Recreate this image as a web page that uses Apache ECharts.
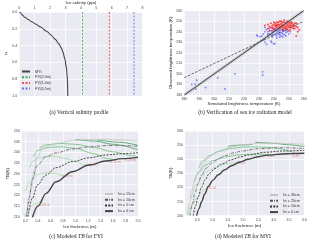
<!DOCTYPE html>
<html><head><meta charset="utf-8">
<script src="https://cdn.jsdelivr.net/npm/echarts@6/dist/echarts.min.js"></script>
<style>html,body{margin:0;padding:0;background:#fff}#c{width:320px;height:242px}</style>
</head><body><div id="c"></div>
<script>
// ---------- (a) vertical salinity profile ----------
const depthZ      = [0, 0.02, 0.05, 0.08, 0.1, 0.13, 0.16, 0.2, 0.25, 0.3, 0.35, 0.4, 0.45, 0.5, 0.6, 0.7, 0.8, 0.9, 1.0];
const myiSalinity = [0, 0.12, 0.28, 0.5, 0.68, 0.95, 1.22, 1.55, 1.92, 2.2, 2.45, 2.64, 2.78, 2.88, 3.0, 3.08, 3.12, 3.14, 3.15];
const fyiNames    = ['FYI(2.0m)', 'FYI(1.0m)', 'FYI(0.5m)'];
const fyiSalinity = [4.1, 5.85, 7.45];

// ---------- (b) verification scatter ----------
const tbBlue = [[185,190],[187.2,190.2],[188.3,194],[187.6,185.7],[194.3,187],[202.4,196.4],[207.3,185.7],[214,200.2],[232.5,202],[232.5,199],
  [228.5,236.9],[230.7,235.3],[234.1,230],[235.2,228.1],[238.6,230],[239.9,228.4],[240.8,229],[233,232],[229,236],[238,231],
  [236,240],[237,238],[238,241],[238,237],[239,239],[240,240],[240,237],[241,238],[241,241],[242,239],[242,236],[243,240],[243,238],
  [244,237],[244,241],[245,239],[245,236],[246,238],[246,240],[247,237],[247,241],[248,239],[249,240],[250,238],[251,240],[239,243],
  [237,243],[235,242],[234,240],[236,236],[239,235],[242,234],[244,235],[246,235],[248,236],[233,238],[232,236],[234,244],[241,243],
  [243,243],[245,242],[240,242],[242,241],[244,239],[246,242],[248,241],[239,237],[236,238]];
const tbRed = [[238,244],[239,246],[240,247],[240,243],[241,245],[241,248],[242,246],[242,244],[243,247],[243,249],[244,245],[244,247],
  [245,246],[245,248],[245,250],[246,244],[246,247],[247,245],[247,249],[248,246],[248,248],[248,243],[249,247],[249,245],[250,248],
  [250,246],[250,244],[251,247],[251,249],[252,246],[252,244],[253,247],[253,245],[254,246],[254,243],[255,245],[256,244],[257,242],
  [237,241],[236,243],[239,241],[241,242],[243,242],[246,242],[249,242],[251,242],[244,250],[247,251],[249,250],[246,249],[242,249],
  [240,249],[238,248],[252,249],[253,243],[255,248],[244,243],[247,243],[250,241],[245,244],[243,245],[241,246],[248,244],[251,245],
  [239,244],[242,247],[246,246],[249,249],[252,248],[254,248],[234,246],[236,247],[255,236],[256,240],[237,245]];
const tbRange = [180, 260];
const fitObs  = [196.5, 250];

// ---------- (c) modeled TB for FYI ----------
const fyiLegend = ['hs = 15cm', 'hs = 10cm', 'hs = 5 cm', 'hs = 0 cm'];
const fyiHs15 = [[0.21,209],[0.25,216],[0.29,222.5],[0.34,232],[0.39,238],[0.47,241.6],[0.6,243.4],[0.69,244.2],[0.95,245.5],[1.22,246.1],[1.48,246.1],[1.75,245.8],[2.0,245.2]];
const fyiHs10 = [[0.22,210],[0.26,219],[0.31,227.5],[0.39,234],[0.53,238],[0.69,239.8],[0.95,241.6],[1.22,242.6],[1.48,243.2],[1.75,243.2],[2.0,242.8]];
const fyiHs5  = [[0.24,210],[0.31,218.6],[0.39,224.8],[0.53,229.5],[0.69,232.9],[0.95,235.7],[1.22,237.5],[1.48,238.8],[1.75,239.4],[2.0,239.9]];
const fyiHs0  = [[0.31,209.5],[0.4,215],[0.53,220.9],[0.69,226.3],[0.95,231],[1.22,234.1],[1.48,236],[1.75,237.1],[2.0,237.7]];
const fyiSnowA = [[0.18,209.5],[0.22,212],[0.28,214.5],[0.35,215.8],[0.42,216.8],[0.46,217.8]];
const fyiSnowB = [[0.2,222],[0.27,226.5],[0.37,229.5],[0.53,230.5],[0.66,230.2],[0.77,229.4],[0.85,229.3]];
const fyiSnowC = [[0.27,233],[0.32,236],[0.4,237.4],[0.53,238],[0.69,238],[0.85,237.2],[1.0,235.7],[1.15,233.6]];
const fyiSnowD = [[0.33,238],[0.4,241],[0.53,242.2],[0.74,242.7],[1.0,241.9],[1.27,239.6],[1.5,237.2],[1.62,236.5]];
const fyiSnowE = [[0.42,242],[0.55,243.6],[0.75,244.2],[1.0,243.8],[1.3,242.3],[1.6,240.3],[1.9,238.5],[2.0,237.9]];
const fyiSnowF = [[1.0,246.0],[1.3,245.3],[1.6,243.8],[2.0,241.2]];
const fyiSnowG = [[1.35,245.8],[1.7,244.8],[2.0,243.3]];
const fyiTagText = ['0.04 m', '0.08 m', '0.12 m', '0.16 m', '0.20 m'];
const fyiTagPos  = [[0.51,215.4],[0.87,229.2],[1.25,234],[1.64,235.6],[1.88,236.5]];
const fyiTicks = [0.2,0.4,0.6,0.8,1.0,1.2,1.4,1.6,1.8,2.0];

// ---------- (d) modeled TB for MYI ----------
const myiLegend = ['hs = 30cm', 'hs = 20cm', 'hs = 10cm ', 'hs = 0 cm '];
const myiHs30 = [[0.18,200],[0.24,208],[0.31,217],[0.42,225],[0.53,231.2],[0.7,236.5],[0.86,240.6],[1.05,243.8],[1.3,246.5],[1.55,248.3],[1.84,249.6],[2.39,251],[3.04,251.3],[4.0,250.6]];
const myiHs20 = [[0.26,200],[0.34,208],[0.42,215.8],[0.53,222.5],[0.64,228.8],[0.8,233.8],[0.97,237.1],[1.2,240.2],[1.4,242.5],[1.7,244.5],[1.95,245.8],[2.5,247.5],[3.15,248.2],[4.0,247.6]];
const myiHs10 = [[0.37,200],[0.45,207],[0.53,213.5],[0.64,220],[0.75,225.3],[0.9,230],[1.08,233.5],[1.3,236.6],[1.62,239.6],[1.9,241.6],[2.17,243],[2.71,244.9],[3.26,245.8],[4.0,246.3]];
const myiHs0  = [[0.48,200],[0.56,205],[0.64,209.9],[0.75,215.5],[0.86,220.5],[1.0,225],[1.19,229],[1.4,232.5],[1.62,235.4],[1.9,238],[2.17,240],[2.5,241.8],[2.8,242.9],[3.26,243.7],[3.6,244],[4.0,244.2]];
const myiSnowA = [[0.2,201],[0.35,208],[0.5,213],[0.7,218],[0.9,222],[1.0,223.8]];
const myiSnowB = [[0.3,212],[0.45,221],[0.6,226.5],[0.8,231],[1.1,234.6],[1.4,236.6],[1.7,237.5],[1.95,238.3]];
const myiSnowC = [[0.4,224],[0.55,230.5],[0.75,235.5],[1.0,239],[1.4,241.6],[1.8,243],[2.3,243.6],[2.9,243.3]];
const myiSnowD = [[0.55,234],[0.7,239],[0.9,242.6],[1.2,245.5],[1.6,247.6],[2.0,248.6],[2.5,248.8],[3.0,248],[3.72,244.2]];
const myiSnowE = [[1.5,249.2],[1.9,250],[2.3,250.4]];
const myiSnowF = [[2.4,252],[3.0,251.3],[3.5,250.2],[4.0,249]];
const myiTagText = ['0.10', '0.20', '0.30', '0.40'];
const myiTagPos  = [[1.0,219.6],[1.95,237.6],[2.9,242],[3.72,242.6]];
const myiTicks = [0.5,1.0,1.5,2.0,2.5,3.0,3.5,4.0];

// ---------- chart ----------
const SANS = '"Liberation Sans", Arial, sans-serif';
const SERIF = '"Liberation Serif", "Times New Roman", serif';
const BG = '#eaeaf2';
const lab = {fontSize: 3.6, color: '#444', fontFamily: SANS, margin: 2};
const nameStyle = {fontSize: 4.4, color: '#222', fontFamily: SANS};
const split = {show: true, lineStyle: {color: '#ffffff', width: 0.7}};
function axis(o) {
  return Object.assign({type: 'value', axisLine: {show: false}, axisTick: {show: false},
    splitLine: split, nameTextStyle: nameStyle, nameLocation: 'middle'}, o);
}
function line(name, data, xi, color, width, type, extra) {
  return Object.assign({type: 'line', name, data, xAxisIndex: xi, yAxisIndex: xi, symbol: 'none',
    smooth: 0.35, smoothMonotone: 'x', silent: true,
    lineStyle: {color, width, type: type || 'solid'}, itemStyle: {color}}, extra || {});
}
function tags(texts, pos, xi) {
  return {type: 'scatter', xAxisIndex: xi, yAxisIndex: xi, symbolSize: 1, silent: true,
    itemStyle: {color: 'rgba(0,0,0,0)'},
    data: pos.map((p, i) => ({value: p, name: texts[i]})),
    label: {show: true, position: 'inside', formatter: '{b}', fontSize: 3.6, color: '#e06666', fontFamily: SANS}};
}
const fmt1 = v => v.toFixed(1);

const series = [];
// (a)
series.push(line('MYI', myiSalinity.map((s, i) => [s, depthZ[i]]), 0, '#444444', 1.1, 'solid', {smooth: 0.3, smoothMonotone: 'y'}));
const fyiColors = ['#3aa657', '#f0504a', '#6e6ef5'];
fyiNames.forEach((n, i) => series.push(line(n, [[fyiSalinity[i], 0], [fyiSalinity[i], 1]], 0, fyiColors[i], 0.9, [2, 1.5], {smooth: false})));
// (b)
series.push(line('band', [[tbRange[0], tbRange[0]], [tbRange[1], tbRange[1]]], 1, 'rgba(150,150,150,0.35)', 3, 'solid', {smooth: false}));
series.push({type: 'scatter', xAxisIndex: 1, yAxisIndex: 1, data: tbBlue, symbolSize: 1.8, silent: true, itemStyle: {color: 'rgba(40,40,255,0.7)'}});
series.push({type: 'scatter', xAxisIndex: 1, yAxisIndex: 1, data: tbRed, symbolSize: 2, silent: true, itemStyle: {color: 'rgba(255,0,0,0.85)'}});
series.push(line('1:1', [[tbRange[0], tbRange[0]], [tbRange[1], tbRange[1]]], 1, '#333333', 0.9, 'solid', {smooth: false}));
series.push(line('fit', [[tbRange[0], fitObs[0]], [tbRange[1], fitObs[1]]], 1, '#444444', 0.8, [2.5, 1.5], {smooth: false}));
// (c)
const lg = '#9fdc9f', mg = '#6cc07a', dg = '#3f9a55';
[[fyiSnowA, lg], [fyiSnowB, lg], [fyiSnowC, lg], [fyiSnowD, mg], [fyiSnowE, mg], [fyiSnowF, dg], [fyiSnowG, dg]].forEach(
  (g, i) => series.push(line('gc' + i, g[0], 2, g[1], 0.8)));
series.push(line(fyiLegend[0], fyiHs15, 2, '#c4c4c4', 0.8));
series.push(line(fyiLegend[1], fyiHs10, 2, '#555555', 0.8, [3, 1.2, 0.8, 1.2]));
series.push(line(fyiLegend[2], fyiHs5, 2, '#333333', 0.9, [2, 1.3]));
series.push(line(fyiLegend[3], fyiHs0, 2, '#444444', 1.4));
series.push(tags(fyiTagText, fyiTagPos, 2));
// (d)
[[myiSnowA, lg], [myiSnowB, lg], [myiSnowC, mg], [myiSnowD, mg], [myiSnowE, dg], [myiSnowF, dg]].forEach(
  (g, i) => series.push(line('gd' + i, g[0], 3, g[1], 0.8)));
series.push(line(myiLegend[0], myiHs30, 3, '#c4c4c4', 0.8));
series.push(line(myiLegend[1], myiHs20, 3, '#555555', 0.8, [3, 1.2, 0.8, 1.2]));
series.push(line(myiLegend[2], myiHs10, 3, '#333333', 0.9, [2, 1.3]));
series.push(line(myiLegend[3], myiHs0, 3, '#444444', 1.4));
series.push(tags(myiTagText, myiTagPos, 3));

const legendBase = {orient: 'vertical', itemWidth: 8, itemHeight: 4, itemGap: 1.7, padding: 0, selectedMode: false,
  textStyle: {fontSize: 3.6, color: '#333', fontFamily: SANS},
  itemStyle: {color: 'rgba(0,0,0,0)', borderWidth: 0, opacity: 0}};

const option = {
  animation: false,
  backgroundColor: '#ffffff',
  grid: [
    {left: 19.3, top: 11, width: 123.2, height: 85, show: true, backgroundColor: BG, borderWidth: 0},
    {left: 184.3, top: 10.7, width: 119.4, height: 84.3, show: true, backgroundColor: BG, borderWidth: 0},
    {left: 21.7, top: 131, width: 116.3, height: 85.7, show: true, backgroundColor: BG, borderWidth: 0},
    {left: 185, top: 131, width: 119.3, height: 84.7, show: true, backgroundColor: BG, borderWidth: 0}
  ],
  xAxis: [
    axis({gridIndex: 0, position: 'top', min: 0, max: 8, interval: 1, name: 'Ice salinity (ppt)', nameGap: 7, axisLabel: lab}),
    axis({gridIndex: 1, min: 180, max: 260, interval: 10, name: 'Simulated brightness temperature (K)', nameGap: 7, axisLabel: lab}),
    axis({gridIndex: 2, min: 0.14, max: 2.0, name: 'Ice thickness (m)', nameGap: 8,
      axisLabel: Object.assign({customValues: fyiTicks, formatter: fmt1}, lab), axisTick: {show: false, customValues: fyiTicks}}),
    axis({gridIndex: 3, min: 0.1, max: 4.0, name: 'Ice thickness (m)', nameGap: 8,
      axisLabel: Object.assign({customValues: myiTicks, formatter: fmt1}, lab), axisTick: {show: false, customValues: myiTicks}})
  ],
  yAxis: [
    axis({gridIndex: 0, inverse: true, min: 0, max: 1, interval: 0.2, name: 'Z', nameGap: 8, nameRotate: 0,
      axisLabel: Object.assign({formatter: fmt1}, lab)}),
    axis({gridIndex: 1, min: 180, max: 260, interval: 10, name: 'Observed brightness temperature (K)', nameGap: 11, axisLabel: lab}),
    axis({gridIndex: 2, min: 210, max: 250, interval: 5, name: 'TB(K)', nameGap: 11, axisLabel: lab}),
    axis({gridIndex: 3, min: 200, max: 260, interval: 10, name: 'TB(K)', nameGap: 11, axisLabel: lab})
  ],
  legend: [
    Object.assign({left: 21, top: 69.5, data: ['MYI'].concat(fyiNames)}, legendBase),
    Object.assign({left: 104, top: 192, data: fyiLegend}, legendBase),
    Object.assign({left: 269, top: 193, data: myiLegend}, legendBase)
  ],
  graphic: [
    {type: 'text', x: 79, y: 112.5, style: {text: '(a) Vertical salinity profile', fontSize: 5.6, fontFamily: SERIF, fill: '#222', align: 'center', verticalAlign: 'middle'}},
    {type: 'text', x: 245, y: 112.5, style: {text: '(b) Verification of sea ice radiation model', fontSize: 5.6, fontFamily: SERIF, fill: '#222', align: 'center', verticalAlign: 'middle'}},
    {type: 'text', x: 76, y: 236.5, style: {text: '(c) Modeled {i|TB} for FYI', fontSize: 5.6, fontFamily: SERIF, fill: '#222', align: 'center', verticalAlign: 'middle',
      rich: {i: {fontStyle: 'italic', fontSize: 5.6, fontFamily: SERIF, fill: '#222'}}}},
    {type: 'text', x: 243, y: 236.5, style: {text: '(d) Modeled {i|TB} for MYI', fontSize: 5.6, fontFamily: SERIF, fill: '#222', align: 'center', verticalAlign: 'middle',
      rich: {i: {fontStyle: 'italic', fontSize: 5.6, fontFamily: SERIF, fill: '#222'}}}}
  ],
  series: series
};
const chart = echarts.init(document.getElementById('c'), null, {renderer: 'canvas'});
chart.setOption(option);
</script>
</body></html>
